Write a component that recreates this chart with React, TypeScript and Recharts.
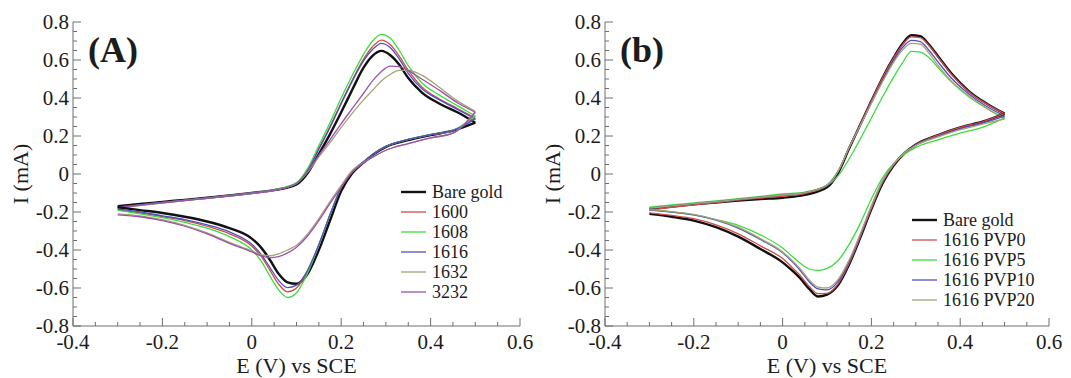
import { LineChart, Line, XAxis, YAxis, Legend } from "recharts";

const SERIF = '"Liberation Serif", "Times New Roman", serif';
const FRAME = "#6e6e6e";
const INK = "#1c1c1c";

// potential grid (V vs SCE) for the forward (anodic) and the return (cathodic) sweep, both read left to right
const E_ANODIC = [-0.3, -0.25, -0.2, -0.15, -0.1, -0.05, 0, 0.05, 0.1, 0.125, 0.15, 0.175, 0.2, 0.225, 0.25, 0.27, 0.29, 0.31, 0.33, 0.35, 0.38, 0.42, 0.46, 0.5];
const E_CATHODIC = [-0.3, -0.25, -0.2, -0.15, -0.1, -0.05, 0, 0.02, 0.04, 0.06, 0.08, 0.1, 0.125, 0.15, 0.175, 0.2, 0.225, 0.25, 0.275, 0.3, 0.35, 0.4, 0.45, 0.5];

const X_TICKS = [-0.4, -0.35, -0.3, -0.25, -0.2, -0.15, -0.1, -0.05, 0, 0.05, 0.1, 0.15, 0.2, 0.25, 0.3, 0.35, 0.4, 0.45, 0.5, 0.55, 0.6];
const Y_TICKS = [-0.8, -0.75, -0.7, -0.65, -0.6, -0.55, -0.5, -0.45, -0.4, -0.35, -0.3, -0.25, -0.2, -0.15, -0.1, -0.05, 0, 0.05, 0.1, 0.15, 0.2, 0.25, 0.3, 0.35, 0.4, 0.45, 0.5, 0.55, 0.6, 0.65, 0.7, 0.75, 0.8];

// panel (A) - current in mA
const A_NAMES = ["Bare gold", "1600", "1608", "1616", "1632", "3232"];
const A_COLORS = ["#111111", "#cf4b4b", "#3ddc3d", "#4f4fc4", "#a3a374", "#9c52ac"];
const A_BARE_AN = [-0.17, -0.158, -0.147, -0.136, -0.125, -0.113, -0.1, -0.085, -0.055, 0.005, 0.105, 0.21, 0.325, 0.445, 0.56, 0.622, 0.648, 0.625, 0.575, 0.505, 0.43, 0.37, 0.325, 0.27];
const A_1600_AN = [-0.175, -0.162, -0.15, -0.138, -0.126, -0.113, -0.1, -0.084, -0.05, 0.02, 0.135, 0.25, 0.375, 0.495, 0.605, 0.67, 0.705, 0.68, 0.62, 0.545, 0.46, 0.395, 0.345, 0.295];
const A_1608_AN = [-0.178, -0.164, -0.151, -0.139, -0.127, -0.113, -0.1, -0.082, -0.045, 0.03, 0.15, 0.27, 0.4, 0.52, 0.63, 0.7, 0.735, 0.715, 0.65, 0.57, 0.48, 0.415, 0.36, 0.305];
const A_1616_AN = [-0.175, -0.162, -0.15, -0.138, -0.126, -0.113, -0.1, -0.084, -0.05, 0.018, 0.13, 0.245, 0.37, 0.49, 0.595, 0.655, 0.688, 0.665, 0.605, 0.53, 0.45, 0.39, 0.34, 0.29];
const A_1632_AN = [-0.18, -0.166, -0.153, -0.14, -0.128, -0.115, -0.102, -0.086, -0.05, 0.01, 0.09, 0.165, 0.245, 0.32, 0.39, 0.44, 0.49, 0.525, 0.545, 0.545, 0.52, 0.455, 0.385, 0.33];
const A_3232_AN = [-0.178, -0.164, -0.152, -0.14, -0.128, -0.115, -0.102, -0.086, -0.05, 0.012, 0.1, 0.18, 0.265, 0.345, 0.425, 0.49, 0.54, 0.568, 0.565, 0.545, 0.5, 0.44, 0.375, 0.325];
const A_BARE_CA = [-0.175, -0.19, -0.205, -0.225, -0.25, -0.285, -0.34, -0.385, -0.45, -0.525, -0.57, -0.578, -0.525, -0.4, -0.245, -0.09, 0.005, 0.06, 0.108, 0.143, 0.178, 0.205, 0.228, 0.27];
const A_1600_CA = [-0.19, -0.205, -0.225, -0.245, -0.275, -0.315, -0.38, -0.43, -0.505, -0.58, -0.62, -0.6, -0.51, -0.375, -0.215, -0.07, 0.015, 0.065, 0.11, 0.145, 0.182, 0.207, 0.228, 0.295];
const A_1608_CA = [-0.19, -0.21, -0.23, -0.255, -0.285, -0.33, -0.4, -0.455, -0.535, -0.61, -0.65, -0.625, -0.52, -0.375, -0.215, -0.07, 0.015, 0.065, 0.11, 0.145, 0.182, 0.207, 0.23, 0.305];
const A_1616_CA = [-0.185, -0.2, -0.22, -0.24, -0.268, -0.305, -0.37, -0.42, -0.49, -0.56, -0.598, -0.585, -0.505, -0.37, -0.215, -0.07, 0.015, 0.065, 0.11, 0.145, 0.182, 0.207, 0.228, 0.29];
const A_1632_CA = [-0.21, -0.22, -0.24, -0.27, -0.31, -0.36, -0.405, -0.425, -0.43, -0.42, -0.4, -0.375, -0.315, -0.235, -0.145, -0.06, 0.02, 0.06, 0.095, 0.125, 0.16, 0.19, 0.215, 0.33];
const A_3232_CA = [-0.215, -0.225, -0.245, -0.275, -0.315, -0.365, -0.41, -0.43, -0.44, -0.435, -0.415, -0.385, -0.325, -0.245, -0.155, -0.07, 0.01, 0.058, 0.095, 0.125, 0.16, 0.19, 0.215, 0.325];

// panel (b)
const B_NAMES = ["Bare gold", "1616 PVP0", "1616 PVP5", "1616 PVP10", "1616 PVP20"];
const B_COLORS = ["#111111", "#cf4b4b", "#3ddc3d", "#4f4fc4", "#a3a374"];
const B_BARE_AN = [-0.185, -0.172, -0.16, -0.15, -0.14, -0.132, -0.125, -0.11, -0.07, 0.005, 0.135, 0.26, 0.385, 0.505, 0.612, 0.685, 0.73, 0.725, 0.68, 0.62, 0.53, 0.435, 0.37, 0.318];
const B_PVP0_AN = [-0.19, -0.175, -0.162, -0.15, -0.138, -0.127, -0.117, -0.103, -0.062, 0.012, 0.14, 0.262, 0.385, 0.505, 0.61, 0.68, 0.722, 0.718, 0.675, 0.615, 0.525, 0.432, 0.368, 0.318];
const B_PVP5_AN = [-0.175, -0.163, -0.152, -0.141, -0.13, -0.118, -0.105, -0.095, -0.06, -0.01, 0.08, 0.185, 0.295, 0.405, 0.51, 0.585, 0.645, 0.642, 0.612, 0.56, 0.485, 0.405, 0.345, 0.295];
const B_PVP10_AN = [-0.18, -0.168, -0.156, -0.145, -0.134, -0.122, -0.11, -0.098, -0.058, 0.015, 0.14, 0.255, 0.375, 0.49, 0.595, 0.665, 0.703, 0.697, 0.65, 0.59, 0.505, 0.42, 0.355, 0.305];
const B_PVP20_AN = [-0.18, -0.168, -0.156, -0.145, -0.134, -0.122, -0.11, -0.098, -0.058, 0.015, 0.14, 0.255, 0.372, 0.485, 0.588, 0.652, 0.688, 0.683, 0.635, 0.572, 0.49, 0.41, 0.345, 0.29];
const B_BARE_CA = [-0.21, -0.225, -0.245, -0.28, -0.33, -0.395, -0.465, -0.505, -0.55, -0.605, -0.645, -0.635, -0.585, -0.475, -0.335, -0.185, -0.05, 0.045, 0.11, 0.155, 0.205, 0.245, 0.275, 0.318];
const B_PVP0_CA = [-0.205, -0.218, -0.235, -0.268, -0.315, -0.378, -0.445, -0.488, -0.535, -0.592, -0.63, -0.628, -0.578, -0.47, -0.33, -0.18, -0.045, 0.048, 0.112, 0.155, 0.205, 0.245, 0.275, 0.318];
const B_PVP5_CA = [-0.19, -0.2, -0.215, -0.24, -0.27, -0.32, -0.39, -0.43, -0.47, -0.5, -0.507, -0.497, -0.455, -0.37, -0.26, -0.13, -0.02, 0.055, 0.105, 0.14, 0.18, 0.215, 0.245, 0.295];
const B_PVP10_CA = [-0.19, -0.2, -0.215, -0.243, -0.285, -0.345, -0.415, -0.457, -0.508, -0.567, -0.605, -0.61, -0.565, -0.46, -0.32, -0.17, -0.038, 0.052, 0.115, 0.152, 0.198, 0.238, 0.268, 0.305];
const B_PVP20_CA = [-0.188, -0.198, -0.213, -0.24, -0.28, -0.34, -0.41, -0.452, -0.5, -0.558, -0.595, -0.6, -0.555, -0.452, -0.315, -0.168, -0.035, 0.052, 0.112, 0.15, 0.195, 0.233, 0.262, 0.29];

type Series = { name: string; color: string; width: number; anodic: number[]; cathodic: number[] };

const build = (names: string[], colors: string[], an: number[][], ca: number[][]): Series[] =>
  names.map((name, k) => ({ name, color: colors[k], width: k === 0 ? 2.4 : 1.3, anodic: an[k], cathodic: ca[k] }));

const SERIES_A = build(A_NAMES, A_COLORS, [A_BARE_AN, A_1600_AN, A_1608_AN, A_1616_AN, A_1632_AN, A_3232_AN], [A_BARE_CA, A_1600_CA, A_1608_CA, A_1616_CA, A_1632_CA, A_3232_CA]);
const SERIES_B = build(B_NAMES, B_COLORS, [B_BARE_AN, B_PVP0_AN, B_PVP5_AN, B_PVP10_AN, B_PVP20_AN], [B_BARE_CA, B_PVP0_CA, B_PVP5_CA, B_PVP10_CA, B_PVP20_CA]);

const toPoints = (e: number[], cur: number[]) => e.map((v, k) => ({ E: v, I: cur[k] }));

const isMajor = (v: number) => Math.abs(v * 5 - Math.round(v * 5)) < 1e-6;
const fmt = (v: number) => (Math.abs(v) < 1e-9 ? "0" : v.toFixed(1));
const tickLen = (v: number) => (isMajor(v) ? 8 : 4);

// ticks point inwards on all four sides, labels only on the major ones
const BottomTick = ({ x, y, payload }: any) => (
  <g>
    <line x1={x} x2={x} y1={y} y2={y - tickLen(payload.value)} stroke={FRAME} />
    {isMajor(payload.value) && (
      <text x={x} y={y + 23} textAnchor="middle" fontSize={21} fontFamily={SERIF} fill={INK}>
        {fmt(payload.value)}
      </text>
    )}
  </g>
);
const TopTick = ({ x, y, payload }: any) => (
  <line x1={x} x2={x} y1={y} y2={y + tickLen(payload.value)} stroke={FRAME} />
);
const LeftTick = ({ x, y, payload }: any) => (
  <g>
    <line x1={x} x2={x + tickLen(payload.value)} y1={y} y2={y} stroke={FRAME} />
    {isMajor(payload.value) && (
      <text x={x - 4} y={y + 7} textAnchor="end" fontSize={21} fontFamily={SERIF} fill={INK}>
        {fmt(payload.value)}
      </text>
    )}
  </g>
);
const RightTick = ({ x, y, payload }: any) => (
  <line x1={x} x2={x - tickLen(payload.value)} y1={y} y2={y} stroke={FRAME} />
);

const yTitle = (p: any) => {
  const cx = p.viewBox.x + 28;
  const cy = p.viewBox.y + p.viewBox.height / 2;
  return (
    <text x={cx} y={cy} transform={`rotate(-90 ${cx} ${cy})`} textAnchor="middle" fontSize={22} fontFamily={SERIF} fill={INK}>
      I (mA)
    </text>
  );
};

type PanelProps = {
  tag: string;
  series: Series[];
  left: number;
  width: number;
  rightMargin: number;
  legendX: number;
  legendY: number;
};

const Panel = ({ tag, series, left, width, rightMargin, legendX, legendY }: PanelProps) => {
  const names = series.map((s) => s.name);
  return (
    <div style={{ position: "absolute", left, top: 0, width, height: 378 }}>
      <LineChart width={width} height={378} margin={{ top: 22, right: rightMargin, bottom: 0, left: 0 }}>
        <XAxis
          xAxisId="bottom"
          dataKey="E"
          type="number"
          domain={[-0.4, 0.6]}
          allowDataOverflow
          ticks={X_TICKS}
          interval={0}
          height={52}
          tickSize={0}
          tickMargin={0}
          tick={BottomTick}
          stroke={FRAME}
          label={{ value: "E (V) vs SCE", position: "insideBottom", offset: 5, fill: INK, fontSize: 22, fontFamily: SERIF }}
        />
        <XAxis xAxisId="top" orientation="top" dataKey="E" type="number" domain={[-0.4, 0.6]} allowDataOverflow ticks={X_TICKS} interval={0} height={0} tickSize={0} tickMargin={0} tick={TopTick} stroke={FRAME} />
        <YAxis
          yAxisId="left"
          type="number"
          domain={[-0.8, 0.8]}
          allowDataOverflow
          ticks={Y_TICKS}
          interval={0}
          width={73}
          tickSize={0}
          tickMargin={0}
          tick={LeftTick}
          stroke={FRAME}
          label={{ content: yTitle }}
        />
        <YAxis yAxisId="right" orientation="right" type="number" domain={[-0.8, 0.8]} allowDataOverflow ticks={Y_TICKS} interval={0} width={0} tickSize={0} tickMargin={0} tick={RightTick} stroke={FRAME} />
        <Legend
          layout="vertical"
          align="center"
          verticalAlign="middle"
          wrapperStyle={{ left: legendX, top: legendY, right: "auto", bottom: "auto", width: "auto", height: "auto", margin: 0 }}
          content={(p: any) => {
            const items = (p.payload || [])
              .filter((it: any) => it.type !== "none")
              .sort((a: any, b: any) => names.indexOf(a.value) - names.indexOf(b.value));
            return (
              <div style={{ fontFamily: SERIF, fontSize: 18, color: INK }}>
                {items.map((it: any) => {
                  const s = series[names.indexOf(it.value)];
                  return (
                    <div key={it.value} style={{ display: "flex", alignItems: "center", height: 20, whiteSpace: "nowrap" }}>
                      <svg width={31} height={20} style={{ flex: "none" }}>
                        <line x1={0} x2={25} y1={10} y2={10} stroke={s.color} strokeWidth={s.width} />
                      </svg>
                      <span style={{ lineHeight: "20px" }}>{it.value}</span>
                    </div>
                  );
                })}
              </div>
            );
          }}
        />
        {series.map((s) => (
          <Line
            key={s.name + "-an"}
            xAxisId="bottom"
            yAxisId="left"
            data={toPoints(E_ANODIC, s.anodic)}
            dataKey="I"
            name={s.name}
            type="monotone"
            stroke={s.color}
            strokeWidth={s.width}
            dot={false}
            activeDot={false}
            legendType="plainline"
            isAnimationActive={false}
          />
        ))}
        {series.map((s) => (
          <Line
            key={s.name + "-ca"}
            xAxisId="bottom"
            yAxisId="left"
            data={toPoints(E_CATHODIC, s.cathodic)}
            dataKey="I"
            name={s.name + " (return)"}
            type="monotone"
            stroke={s.color}
            strokeWidth={s.width}
            dot={false}
            activeDot={false}
            legendType="none"
            isAnimationActive={false}
          />
        ))}
      </LineChart>
      <div
        style={{
          position: "absolute",
          left: 88,
          top: 32,
          fontFamily: SERIF,
          fontWeight: "bold",
          fontSize: 36,
          lineHeight: "36px",
          color: INK,
          pointerEvents: "none",
        }}
      >
        {tag}
      </div>
    </div>
  );
};

export default function App() {
  return (
    <div style={{ position: "absolute", left: 0, top: 0, width: 1071, height: 378, background: "#fff", overflow: "hidden" }}>
      <Panel tag="(A)" series={SERIES_A} left={0} width={535} rightMargin={15} legendX={401} legendY={182} />
      <Panel tag="(b)" series={SERIES_B} left={532} width={539} rightMargin={22} legendX={380} legendY={210} />
    </div>
  );
}
